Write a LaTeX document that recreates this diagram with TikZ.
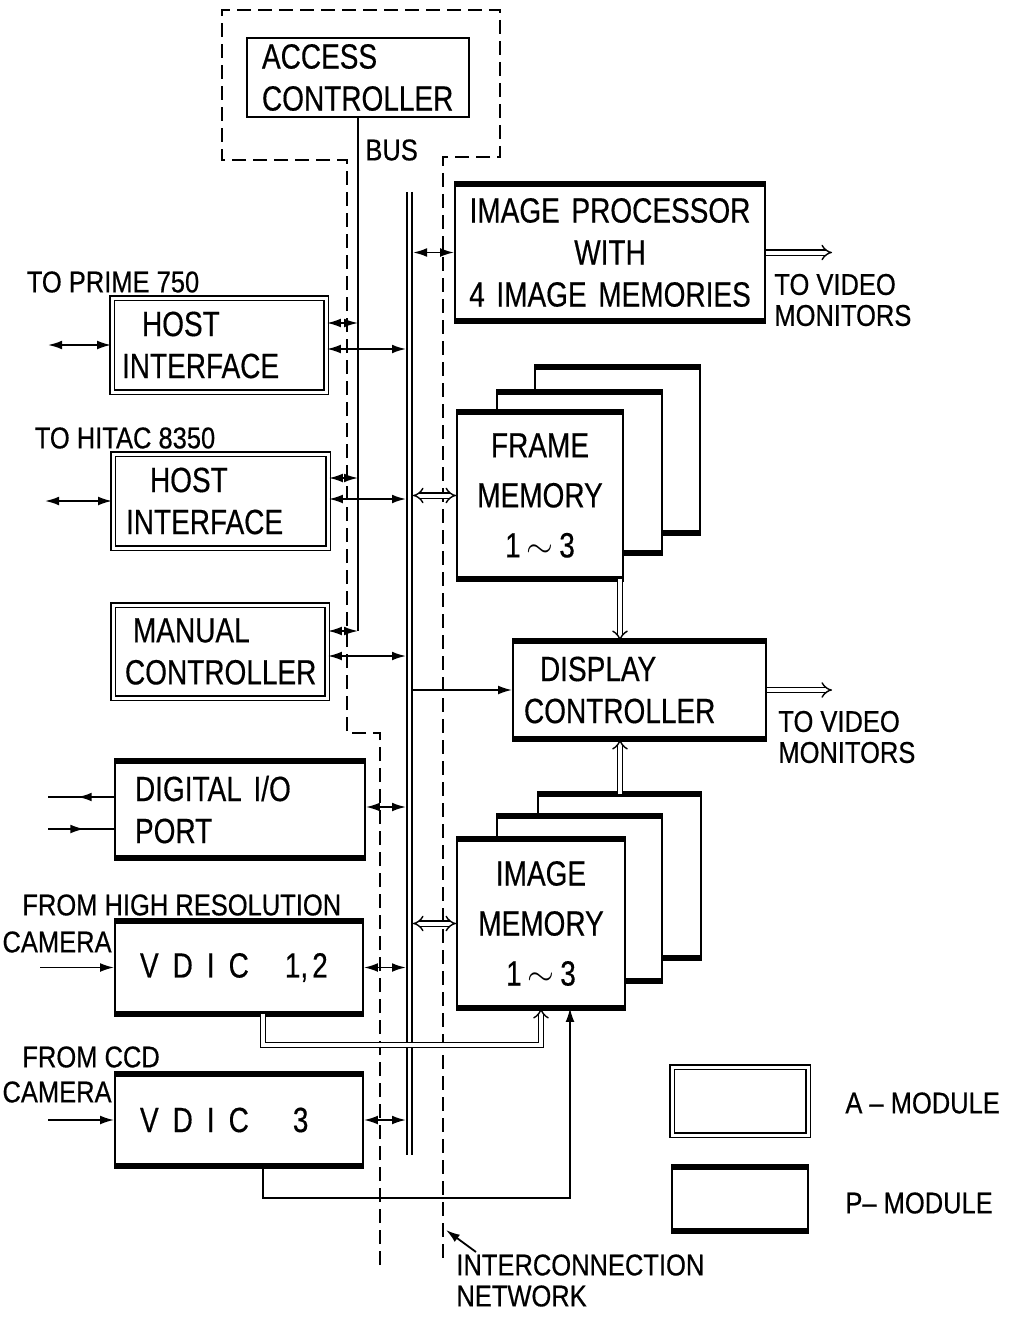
\documentclass[tikz,border=0pt]{standalone}
\usepackage{fontspec}
\setmainfont{Liberation Sans}
\newfontfamily\boxfont{Liberation Sans}[FakeStretch=0.8,FakeBold=0.4]
\newfontfamily\lblfont{Liberation Sans}[FakeStretch=0.85,FakeBold=0.5]
\usetikzlibrary{arrows.meta,decorations.markings}

\begin{document}
\begin{tikzpicture}[x=0.5pt,y=-0.5pt,
  box/.style={draw,line width=1.2pt,fill=white,inner ysep=0pt,align=left,
    font=\boxfont\fontsize{17.5}{21}\selectfont},
  amod/.style={box,double,line width=0.9pt,double distance=1.5pt},
  pmod/.style={box,line width=0.9pt,append after command={
    (\tikzlastnode.north west) edge[draw,line width=3pt] (\tikzlastnode.north east)
    (\tikzlastnode.south west) edge[draw,line width=3pt] (\tikzlastnode.south east)}},
  lbl/.style={inner sep=0pt,align=left,font=\lblfont\fontsize{15}{15.5}\selectfont},
  wire/.style={line width=0.9pt},
  arr/.style={wire,-{Latex[length=7pt,width=4.4pt]}},
  bi/.style={wire,{Latex[length=7pt,width=4.4pt]}-{Latex[length=7pt,width=4.4pt]}},
  midarr/.style={wire,postaction={decorate},decoration={markings,
    mark=at position 0.55 with {\arrow{Latex[length=7pt,width=4.4pt]}}}},
  dbl/.style={double,double distance=2pt,line width=0.7pt,-{Implies}},
  dbi/.style={double,double distance=2pt,line width=0.7pt,{Implies}-{Implies}},
  net/.style={line width=0.9pt,dash pattern=on 7pt off 3.5pt},
  busline/.style={double,double distance=1.8pt,line width=0.9pt}
]
\useasboundingbox (0,0) rectangle (1026,1321);

% interconnection network
\draw[net] (380,1265) -- (380,733) -- (347,733) -- (347,160) -- (222,160) -- (222,10)
  -- (500,10) -- (500,157) -- (443,157) -- (443,1265);

% modules
\node[box,text width=96pt,inner xsep=7.5pt,minimum height=39.5pt] (access) at (358,77.5) {ACCESS\\CONTROLLER};
\node[pmod,text width=147pt,inner xsep=4pt,minimum height=67.5pt,align=center] (improc) at (610,252.5) {IMAGE PROCESSOR\\WITH\\4 IMAGE MEMORIES};
\node[amod,text width=97pt,inner xsep=5pt,minimum height=47pt] (host1) at (219,345) {\hspace*{10pt}HOST\\INTERFACE};
\node[amod,text width=94.5pt,inner xsep=6.5pt,minimum height=47pt] (host2) at (220.5,501) {\hspace*{12pt}HOST\\INTERFACE};
\node[amod,text width=95pt,inner xsep=6pt,minimum height=46.5pt] (manual) at (220,651.5) {\hspace*{4pt}MANUAL\\CONTROLLER};
\node[pmod,text width=105pt,inner xsep=10pt,minimum height=47.5pt] (dio) at (240,809.5) {DIGITAL I/O\\PORT};
\node[pmod,text width=99pt,inner xsep=12.5pt,minimum height=45.5pt] (vdic12) at (239,967.5) {V\hspace{7pt}D\hspace{7pt}I\hspace{7pt}C\hspace{18pt}1,\hspace{2pt}2};
\node[pmod,text width=99pt,inner xsep=12.5pt,minimum height=45pt] (vdic3) at (239,1120) {V\hspace{7pt}D\hspace{7pt}I\hspace{7pt}C\hspace{22pt}3};

% memory stacks
\node[pmod,minimum width=82.5pt,minimum height=82pt] (fm3) at (617.5,450) {};
\node[pmod,minimum width=82.5pt,minimum height=79.5pt] (fm2) at (579.5,472.5) {};
\node[pmod,text width=79pt,inner xsep=2pt,minimum height=82.5pt,align=center] (fm1) at (540,495.5) {FRAME\\[4pt]MEMORY\\[4pt]1\,$\sim$\,3};
\node[pmod,text width=115.5pt,inner xsep=5.5pt,minimum height=48pt] (disp) at (639.5,690) {\hspace*{8pt}DISPLAY\\CONTROLLER};
\node[pmod,minimum width=81.5pt,minimum height=81pt] (im3) at (619.5,876) {};
\node[pmod,minimum width=82.5pt,minimum height=81.5pt] (im2) at (579.5,898.5) {};
\node[pmod,text width=80pt,inner xsep=2pt,minimum height=83.5pt,align=center] (im1) at (541,923.5) {IMAGE\\[4pt]MEMORY\\[4pt]1\,$\sim$\,3};

% legend
\node[amod,minimum width=68pt,minimum height=34pt] (lega) at (740,1101) {};
\node[pmod,minimum width=68pt,minimum height=31pt] (legp) at (740,1199) {};
\node[lbl,anchor=west] (legatxt) at (845,1103) {A – MODULE};
\node[lbl,anchor=west] (legptxt) at (845,1203) {P– MODULE};

% labels
\node[lbl] (prime) at (113,282) {TO PRIME 750};
\node[lbl] (hitac) at (125,438) {TO HITAC 8350};
\node[lbl,anchor=west] (vid1) at (774,300) {TO VIDEO\\MONITORS};
\node[lbl,anchor=west] (vid2) at (778,737) {TO VIDEO\\MONITORS};
\node[lbl,anchor=west] (hires) at (22,905) {FROM HIGH RESOLUTION};
\node[lbl,anchor=east] (cam1) at (112,942) {CAMERA};
\node[lbl,anchor=west] (ccd) at (22,1057) {FROM CCD};
\node[lbl,anchor=east] (cam2) at (112,1092) {CAMERA};
\node[lbl,anchor=west] (bus) at (365,150) {BUS};
\node[lbl,anchor=north west] (netlbl) at (456,1254) {INTERCONNECTION\\NETWORK};

% access bus
\draw[wire] (access.south) -- (access.south |- 0,631);
\draw[bi] (host1.east |- 0,323) -- (access.south |- 0,323);
\draw[bi] (host2.east |- 0,478) -- (access.south |- 0,478);
\draw[bi] (manual.east |- 0,631) -- (access.south |- 0,631);

% main bus
\coordinate (bustop) at (409.5,192);
\coordinate (busbot) at (409.5,1155);
\coordinate (busL) at (406,0);
\coordinate (busR) at (413,0);
\draw[busline] (bustop) -- (busbot);
\draw[bi] (host1.east |- 0,349) -- (busL |- 0,349);
\draw[bi] (host2.east |- 0,499) -- (busL |- 0,499);
\draw[bi] (manual.east |- 0,656) -- (busL |- 0,656);
\draw[bi] (dio.east |- 0,807) -- (busL |- 0,807);
\draw[bi] (vdic12.east) -- (busL |- vdic12.east);
\draw[bi] (vdic3.east) -- (busL |- vdic3.east);
\draw[bi] (busR |- improc.west) -- (improc.west);
\draw[dbi] (busR |- fm1.west) -- (fm1.west);
\draw[arr] (busR |- disp.west) -- (disp.west);
\draw[dbi] (busR |- im1.west) -- (im1.west);

% video paths
\draw[dbl] (fm1.south -| 620,0) -- (disp.north -| 620,0);
\draw[dbl] (im3.north -| 620,0) -- (disp.south -| 620,0);
\coordinate (mon1) at (832,252.5);
\coordinate (mon2) at (832,690);
\draw[dbl] (improc.east) -- (mon1);
\draw[dbl] (disp.east) -- (mon2);
\draw[dbl] (vdic12.south -| 263,0) |- (541,1045) -- (im1.south -| 541,0);
\draw[arr] (vdic3.south -| 263,0) |- (570,1198) -- (im1.south -| 570,0);

% outside lines
\coordinate (h1) at (48,345);
\coordinate (h2) at (45,501);
\coordinate (d1) at (48,797);
\coordinate (d2) at (48,829);
\coordinate (c1) at (40,967.5);
\coordinate (c2) at (48,1120);
\draw[bi] (h1) -- (host1.west);
\draw[bi] (h2) -- (host2.west);
\draw[midarr] (dio.west |- d1) -- (d1);
\draw[midarr] (d2) -- (dio.west |- d2);
\draw[arr] (c1) -- (vdic12.west);
\draw[arr] (c2) -- (vdic3.west);
\coordinate (netpt) at (446,1230);
\draw[arr] ([xshift=10pt,yshift=1pt]netlbl.north west) -- (netpt);
\end{tikzpicture}
\end{document}
